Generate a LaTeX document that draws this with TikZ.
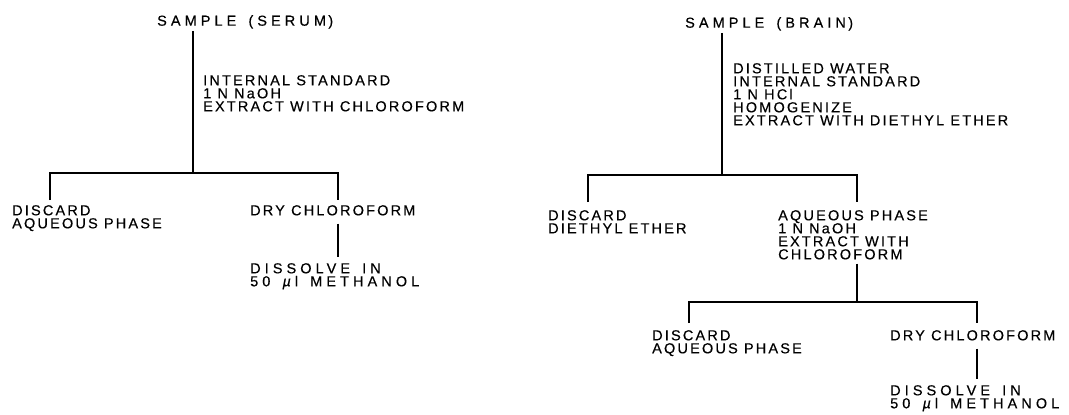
\documentclass[tikz,border=0pt]{standalone}
\usepackage{fontspec}
\setmainfont{Liberation Sans}[LetterSpace=15,FakeBold=0.4]
\newfontfamily\widefont{Liberation Sans}[LetterSpace=28,WordSpace=1.5,FakeBold=0.4]
\usepackage{tikz}
\usetikzlibrary{positioning}

\tikzset{
  stage/.style={anchor=north west,inner sep=0pt,align=left,
    font=\fontsize{14.5}{13}\selectfont},
  wide/.style={stage,font=\widefont\fontsize{14.5}{13}\selectfont},
  flow/.style={line width=1.3pt}
}

\begin{document}
\begin{tikzpicture}[x=1pt,y=-1pt]
  \useasboundingbox (0,0) rectangle (1069,415);
  % serum
  \node[wide] (serum) at (157,15) {SAMPLE (SERUM\,)};
  \node[stage] (serumadd) at (203,75) {INTERNAL STANDARD\\1 N NaOH\\EXTRACT WITH CHLOROFORM};
  \coordinate (s0) at (193,173);
  \coordinate (s1) at (50,200);
  \coordinate (s2) at (338,200);
  \node[stage] (sdisc) at (12,205) {DISCARD\\AQUEOUS PHASE};
  \node[stage] (sdry) at (250,205) {DRY CHLOROFORM};
  \node[wide] (sdiss) at (250,263) {DISSOLVE IN\\50 \textit{µ}l METHANOL};
  \draw[flow,shorten <=2pt] (serum.south -| s0) -- (s0);
  \draw[flow] (s1) |- (s0) -| (s2);
  \draw[flow,shorten <=8pt,shorten >=6pt] (sdry.south -| s2) -- (sdiss.north -| s2);
  % brain
  \node[wide] (brain) at (685,17) {SAMPLE (BRAIN\,)};
  \node[stage] (brainadd) at (733,63) {DISTILLED WATER\\INTERNAL STANDARD\\1 N HCl\\HOMOGENIZE\\EXTRACT WITH DIETHYL ETHER};
  \coordinate (b0) at (722,175);
  \coordinate (b1) at (588,202);
  \coordinate (b2) at (857,202);
  \node[stage] (bdisc) at (548,210) {DISCARD\\DIETHYL ETHER};
  \node[stage] (baq) at (778,210) {AQUEOUS PHASE\\1 N NaOH\\EXTRACT WITH\\CHLOROFORM};
  \draw[flow,shorten <=2pt] (brain.south -| b0) -- (b0);
  \draw[flow] (b1) |- (b0) -| (b2);
  \coordinate (c0) at (857,302);
  \coordinate (c1) at (689,323);
  \coordinate (c2) at (977,323);
  \node[stage] (cdisc) at (652,330) {DISCARD\\AQUEOUS PHASE};
  \node[stage] (cdry) at (890,330) {DRY CHLOROFORM};
  \node[wide] (cdiss) at (890,385) {DISSOLVE IN\\50 \textit{µ}l METHANOL};
  \draw[flow,shorten <=4pt] (baq.south -| c0) -- (c0);
  \draw[flow] (c1) |- (c0) -| (c2);
  \draw[flow,shorten <=8pt,shorten >=6pt] (cdry.south -| c2) -- (cdiss.north -| c2);
\end{tikzpicture}
\end{document}
